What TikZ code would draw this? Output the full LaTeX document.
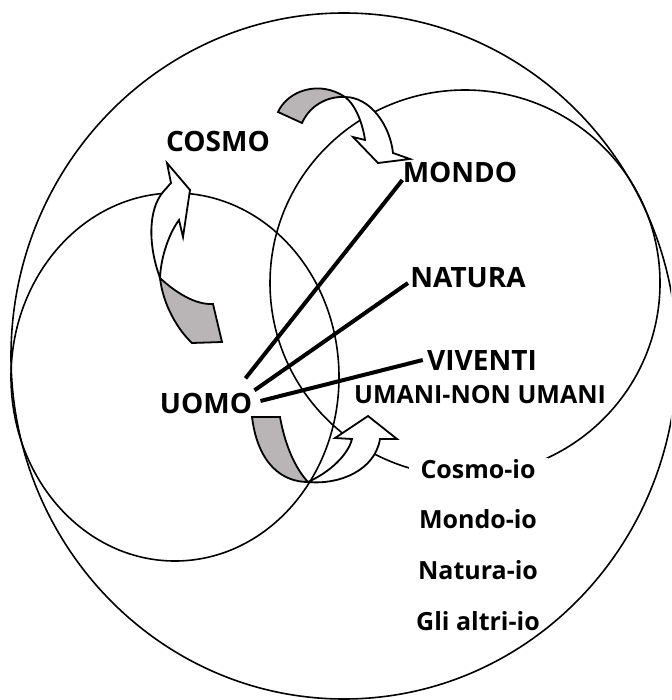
\documentclass[tikz,border=0pt]{standalone}
\usepackage{fontspec}
\setmainfont{Open Sans}
\usetikzlibrary{positioning}
\definecolor{ribbonGray}{RGB}{185,180,181}

\begin{document}
\begin{tikzpicture}[x=0.5pt, y=-0.5pt,
    ring/.style={line width=0.8pt},
    link/.style={line width=2pt},
    ribbon/.style={draw, line width=0.9pt, fill=white, line join=miter},
    lbl/.style={font=\fontsize{14}{16}\selectfont\bfseries, inner sep=0pt, anchor=base},
    io/.style={font=\fontsize{12.5}{15}\selectfont\bfseries, inner xsep=6pt, inner ysep=1pt, text height=9pt, text depth=0pt}]
  \clip (0,0) rectangle (671,700);
  % the three spheres
  \draw[ring] (344,356) ellipse [x radius=166.5pt, y radius=171.5pt];
  \draw[ring] (175,377) ellipse [x radius=82pt, y radius=92pt];
  \draw[ring] (465,283) ellipse [x radius=97.5pt, y radius=96.5pt];
  % ribbon up to COSMO
  \draw[ribbon, fill=ribbonGray] (160,278) .. controls (175,292) and (195,305) .. (213,304) -- (222,342) -- (192,343) .. controls (178,330) and (163,305) .. (160,278) -- cycle;
  \draw[ribbon] (160,278) .. controls (148,245) and (148,210) .. (163,192) -- (171,183) -- (167,163) -- (190,190) -- (183,237) -- (179,220) .. controls (170,232) and (161,255) .. (160,278) -- cycle;
  % ribbon over to MONDO
  \draw[ribbon, fill=ribbonGray] (278,112) .. controls (288,90) and (320,80) .. (345,97) .. controls (328,96) and (310,105) .. (302,123) -- cycle;
  \draw[ribbon] (345,97) .. controls (370,97) and (390,125) .. (393,153) -- (410,159) -- (378,163) -- (353,137) -- (365,140) .. controls (363,125) and (356,105) .. (345,97) -- cycle;
  % ribbon out of UOMO
  \draw[ribbon, fill=ribbonGray] (252,417) -- (280,417) .. controls (285,445) and (295,468) .. (308,482) .. controls (283,482) and (258,465) .. (252,417) -- cycle;
  \draw[ribbon] (308,482) .. controls (330,472) and (348,455) .. (352,439) -- (335,438) -- (368,416) -- (397,439) -- (380,439) .. controls (375,470) and (340,485) .. (308,482) -- cycle;
  % labels
  \node[lbl] (cosmo) at (218,152) {COSMO};
  \node[lbl] (mondo) at (460,183) {MONDO};
  \node[lbl] (natura) at (468,287) {NATURA};
  \node[lbl] (viventi) at (482,370) {VIVENTI};
  \node[lbl, font=\fontsize{12.5}{15}\selectfont\bfseries] (umani) at (480,403) {UMANI-NON UMANI};
  \node[lbl] (uomo) at (206,413) {UOMO};
  \node[io, fill=white, anchor=base] (cosmoio) at (478,478) {Cosmo-io};
  \node[io, below=14pt of cosmoio] (mondoio) {Mondo-io};
  \node[io, below=14pt of mondoio] (naturaio) {Natura-io};
  \node[io, below=14pt of naturaio] (altriio) {Gli altri-io};
  % uomo to the three worlds
  \draw[link] ([shift={(-7,-14)}]uomo.north east) -- ([shift={(0,-3)}]mondo.base west);
  \draw[link] ([shift={(2,-2)}]uomo.north east) -- ([shift={(-2,-4)}]natura.base west);
  \draw[link] ([shift={(8,-2)}]uomo.east) -- ([shift={(-4,0)}]viventi.west);
\end{tikzpicture}
\end{document}
